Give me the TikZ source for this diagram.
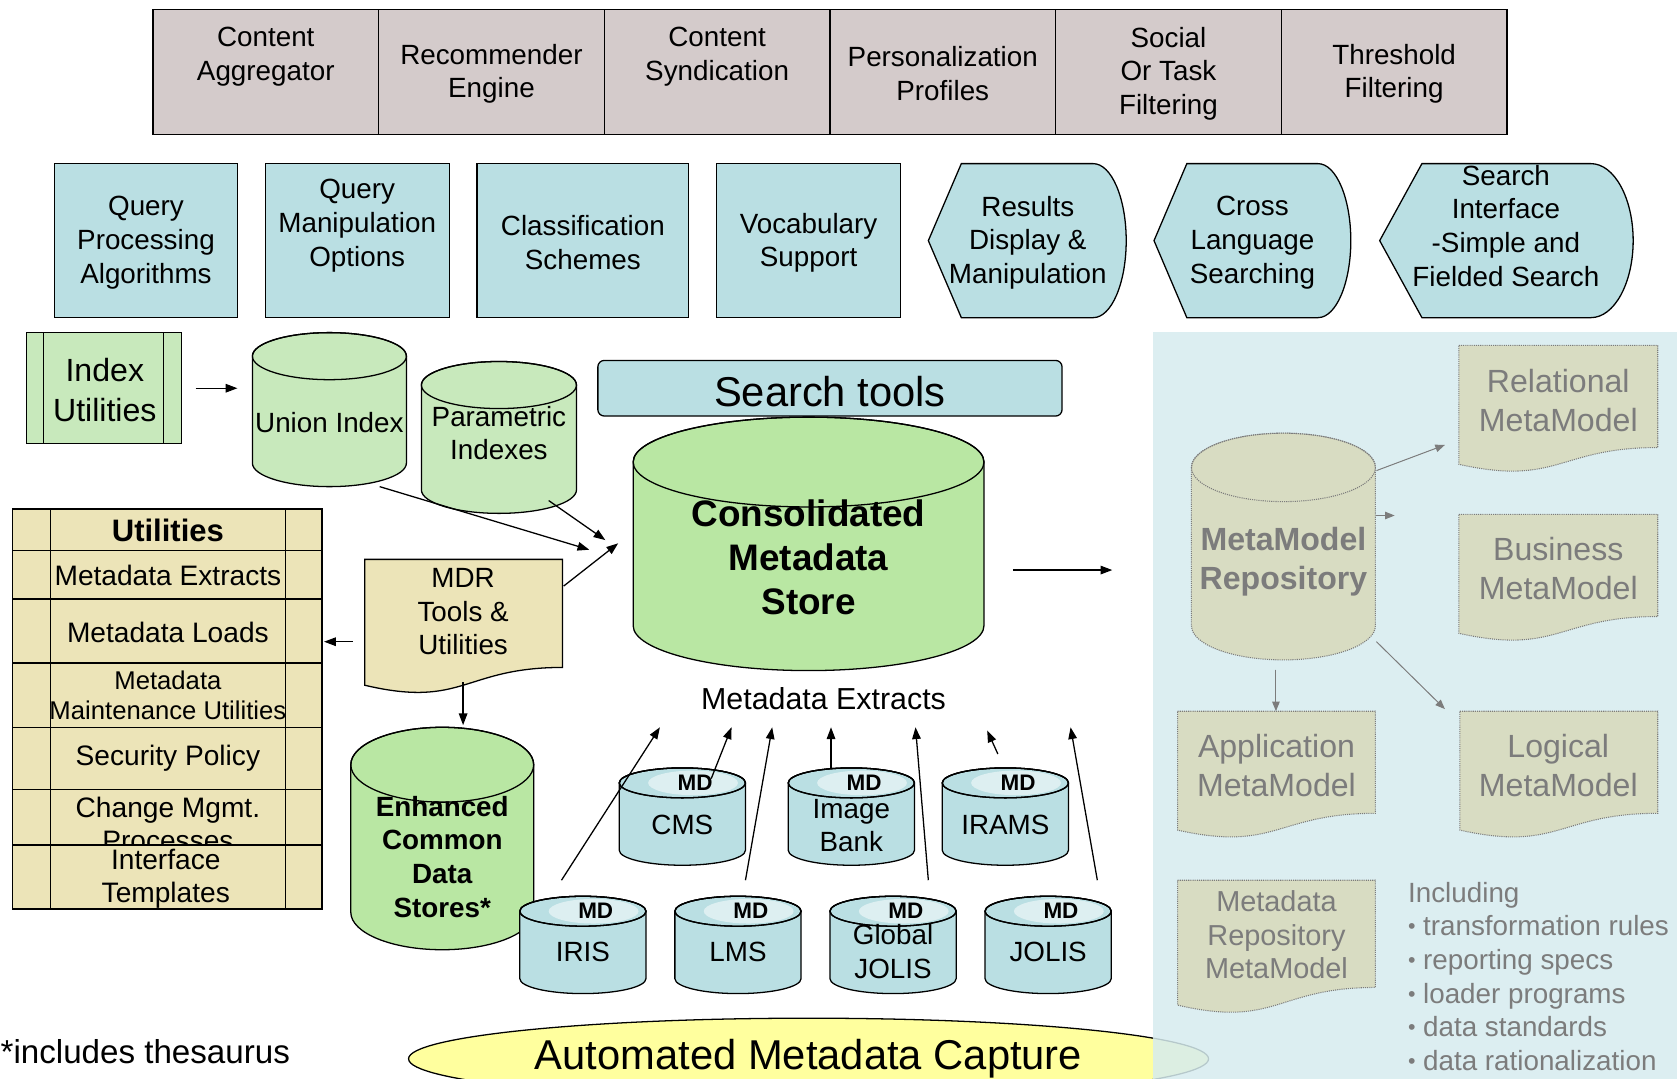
\documentclass[tikz,border=0pt]{standalone}
\usepackage{fontspec}
\setmainfont{Liberation Sans}
\usetikzlibrary{arrows.meta,shapes.geometric}
\definecolor{topgrey}{HTML}{D4CBCB}
\definecolor{boxblue}{HTML}{BADFE3}
\definecolor{lgreen}{HTML}{C8E9BC}
\definecolor{dgreen}{HTML}{B9E7A3}
\definecolor{khaki}{HTML}{ECE4B8}
\definecolor{yel}{HTML}{FFFF9E}
\definecolor{panelc}{HTML}{D6ECEF}
\definecolor{pfill}{HTML}{D8DCC2}
\definecolor{ptext}{HTML}{7C7C7C}
\definecolor{mdhi}{HTML}{DDEFF1}
\newcommand\fsz[2]{\fontsize{#1}{#2}\selectfont}
% cylinder: cx, top centre y, bottom centre y, rx, ry, fill, draw style
\newcommand\cylshape[7]{%
  \filldraw[fill=#6,#7] ({#1-#4},#2) -- ({#1-#4},#3)
    arc[start angle=180,end angle=0,x radius=#4,y radius=#5] -- ({#1+#4},#2)
    arc[start angle=0,end angle=-180,x radius=#4,y radius=#5] -- cycle;
  \draw[#7] (#1,#2) ellipse[x radius=#4,y radius=#5];}
% document: x, top y, w, h, fill, draw style
\newcommand\docshape[6]{%
  \filldraw[fill=#5,#6] (#1,#2) -- ({#1+#3},#2) -- ({#1+#3},{#2+0.802*#4})
    .. controls ({#1+0.5*#3},{#2+0.802*#4}) and ({#1+0.5*#3},{#2+1.1075*#4}) .. (#1,{#2+0.934*#4}) -- cycle;}
% display shape: x, top y, w, h
\newcommand\dispshape[4]{%
  \filldraw[fill=boxblue] (#1,{#2+#4/2}) -- ({#1+#3/6},#2) -- ({#1+5*#3/6},#2)
    arc[start angle=-90,end angle=90,x radius={#3/6},y radius={#4/2}] -- ({#1+#3/6},{#2+#4}) -- cycle;}
% MD cylinder: name, cx, top centre y, text, text y
\newcommand\mdcyl[5]{%
  \cylshape{#2}{#3}{#3+63}{59}{14}{boxblue}{draw=black}
  \fill[mdhi] ({#2+10},#3) ellipse[x radius=42,y radius=11.5];
  \draw (#2,#3) ellipse[x radius=59,y radius=14];
  \node[inner sep=0,font=\fsz{21}{24}\bfseries] (#1-md) at ({#2+12},#3) {MD};
  \node[txt] (#1) at (#2,#5) {#4};}
\newcommand\pbul{{\fsz{20}{20}\raisebox{2pt}{\textbullet}}\hspace{7pt}}
\begin{document}
\begin{tikzpicture}[x=1pt,y=-1pt,line width=1.2pt,
  txt/.style={align=center,inner sep=0pt,font=\fsz{26}{31.5}},
  cell/.style={draw,fill=topgrey,minimum width=211,minimum height=117,inner sep=0},
  bbox/.style={draw,fill=boxblue,minimum height=144,inner sep=0},
  arr/.style={-{Triangle[length=11pt,width=8pt]},line width=1.2pt},
  pdraw/.style={draw=ptext,densely dotted,line width=1pt},
  parr/.style={-{Triangle[length=9pt,width=7pt]},line width=0.9pt,draw=ptext,fill=ptext},
  ptxt/.style={align=center,inner sep=0pt,text=ptext,font=\fsz{30}{36.5}},
  utxt/.style={align=center,inner sep=0pt,font=\fsz{26.3}{31}}]
\useasboundingbox (0,0) rectangle (1568,1008);
\clip (0,0) rectangle (1568,1008);
\fill[white] (0,0) rectangle (1568,1008);

% ---- top row
\node[cell] (tc1) at (248.5,67.5) {};
\node[cell] (tc2) at (459.5,67.5) {};
\node[cell] (tc3) at (670.5,67.5) {};
\node[cell] (tc4) at (881.5,67.5) {};
\node[cell] (tc5) at (1092.5,67.5) {};
\node[cell] (tc6) at (1303.5,67.5) {};
\node[txt] (tt1) at (248.5,53) {Content\\Aggregator};
\node[txt] (tt2) at (459.5,69) {Recommender\\Engine};
\node[txt] (tt3) at (670.5,53) {Content\\Syndication};
\node[txt] (tt4) at (881.5,69) {Personalization\\Profiles};
\node[txt] (tt5) at (1092.5,69) {Social\\Or Task\\Filtering};
\node[txt] (tt6) at (1303.5,69) {Threshold\\Filtering};

% ---- second row
\node[bbox,minimum width=171] (q1) at (136.5,225) {};
\node[bbox,minimum width=172] (q2) at (334,225) {};
\node[bbox,minimum width=198] (q3) at (545,225) {};
\node[bbox,minimum width=172] (q4) at (756,225) {};
\node[txt] (q1t) at (136.5,227) {Query\\Processing\\Algorithms};
\node[txt] (q2t) at (334,211) {Query\\Manipulation\\Options};
\node[txt] (q3t) at (545,227) {Classification\\Schemes};
\node[txt] (q4t) at (756,227) {Vocabulary\\Support};
\dispshape{868}{153}{185}{144}
\dispshape{1079}{153}{184}{144}
\dispshape{1290}{153}{237}{144}
\node[txt] (d1t) at (961,227) {Results\\Display \&\\Manipulation};
\node[txt] (d2t) at (1171,227) {Cross\\Language\\Searching};
\node[txt] (d3t) at (1408,211) {Search\\Interface\\-Simple and\\Fielded Search};

% ---- index utilities
\node[draw,fill=lgreen,minimum width=145,minimum height=104,inner sep=0] (iu) at (97.5,363) {};
\draw (41,311) -- (41,415) (153,311) -- (153,415);
\node[txt,font=\fsz{30}{37}] (iut) at (98,364.5) {Index\\Utilities};

\cylshape{308}{333}{433}{72}{22}{lgreen}{draw=black}
\node[txt] (union) at (308,395) {Union Index};
\cylshape{466.5}{360}{458}{72.5}{22}{lgreen}{draw=black}
\node[txt] (param) at (466.5,405) {Parametric\\Indexes};

\node[draw,fill=boxblue,rounded corners=6,minimum width=434,minimum height=52,inner sep=0] (st) at (776,363) {};
\node[txt,font=\fsz{39}{46}] (stt) at (776,366) {Search tools};

\cylshape{756}{432}{585}{164}{42}{dgreen}{draw=black}
\node[txt,font=\fsz{34.5}{41.5}\bfseries] (cms) at (756,521) {Consolidated\\Metadata\\Store};

% ---- utilities table
\node[draw,fill=khaki,minimum width=289,minimum height=39,inner sep=0] (u0) at (156.5,495.5) {};
\node[txt,font=\fsz{29}{34}\bfseries] (u0t) at (157,496) {Utilities};
\node[draw,fill=khaki,minimum width=289,minimum height=45,inner sep=0] (u1) at (156.5,537.5) {};
\node[utxt] (u1t) at (157,538) {Metadata Extracts};
\node[draw,fill=khaki,minimum width=289,minimum height=60,inner sep=0] (u2) at (156.5,590) {};
\node[utxt] (u2t) at (157,591) {Metadata Loads};
\node[draw,fill=khaki,minimum width=289,minimum height=60,inner sep=0] (u3) at (156.5,650) {};
\node[txt,font=\fsz{24}{28}] (u3t) at (157,650) {Metadata\\Maintenance Utilities};
\node[draw,fill=khaki,minimum width=289,minimum height=58,inner sep=0] (u4) at (156.5,709) {};
\node[utxt] (u4t) at (157,709) {Security Policy};
\node[draw,fill=khaki,minimum width=289,minimum height=52,inner sep=0] (u5) at (156.5,764) {};
\node[utxt] (u5t) at (157,770) {Change Mgmt.\\Processes};
\node[draw,fill=khaki,minimum width=289,minimum height=60,inner sep=0] (u6) at (156.5,820) {};
\node[utxt] (u6t) at (155,821.5) {Interface\\Templates};
\draw (47,476) -- (47,850) (267,476) -- (267,850);

% ---- MDR tools
\docshape{341}{523}{185}{126}{khaki}{draw=black}
\node[txt] (mdr) at (433,572) {MDR\\Tools \&\\Utilities};

\cylshape{413.5}{715}{853}{85.5}{35}{dgreen}{draw=black}
\node[txt,font=\fsz{26}{31.5}\bfseries] (ecds) at (413.5,801) {Enhanced\\Common\\Data\\Stores*};

\node[txt,font=\fsz{28.4}{33}] (mex) at (770,653) {Metadata Extracts};

% ---- MD cylinders
\mdcyl{cmsdb}{638}{732}{CMS}{771}
\mdcyl{imgb}{796}{732}{Image\\Bank}{772}
\mdcyl{irams}{940}{732}{IRAMS}{771}
\mdcyl{iris}{545}{852}{IRIS}{890}
\mdcyl{lms}{690}{852}{LMS}{890}
\mdcyl{gjolis}{835}{852}{Global\\JOLIS}{890}
\mdcyl{jolis}{980}{852}{JOLIS}{890}

% ---- arrows (left / centre)
\coordinate (iuA) at (183,363); \coordinate (iuB) at (222,363);
\draw[arr] (iuA) -- (iuB);
\coordinate (unA) at (355,455); \coordinate (unB) at (551,514);
\draw[arr] (unA) -- (unB);
\coordinate (paA) at (513,468); \coordinate (paB) at (566,505);
\draw[arr] (paA) -- (paB);
\coordinate (mdA) at (527,548); \coordinate (mdB) at (578,508);
\draw[arr] (mdA) -- (mdB);
\coordinate (csA) at (947,533); \coordinate (csB) at (1040,533);
\draw[arr] (csA) -- (csB);
\coordinate (utA) at (330,600); \coordinate (utB) at (303,600);
\draw[arr] (utA) -- (utB);
\coordinate (edA) at (433,638); \coordinate (edB) at (433,678);
\draw[arr] (edA) -- (edB);

\coordinate (x1) at (617,680); \coordinate (x2) at (684,680); \coordinate (x3) at (722,680);
\coordinate (x4) at (777,680); \coordinate (x5) at (856,680); \coordinate (x6) at (923,683);
\coordinate (x7) at (1001,680);
\coordinate (s1) at (525,823); \coordinate (s2) at (665,728); \coordinate (s3) at (697,823);
\coordinate (s4) at (777,718); \coordinate (s5) at (868,823); \coordinate (s6) at (933,705);
\coordinate (s7) at (1026,823);
\foreach \i in {1,...,7} {\draw[arr] (s\i) -- (x\i);}

% ---- automated capture
\node[draw,fill=yel,ellipse,minimum width=748,minimum height=76,inner sep=0] (amc) at (756,990) {};
\node[txt,font=\fsz{39}{46}] (amct) at (756,990) {Automated Metadata Capture};
\node[anchor=west,inner sep=0,font=\fsz{31}{36}] (fn) at (0,983) {*includes thesaurus};

% ---- right panel
\fill[panelc,fill opacity=0.85] (1078,310) rectangle (1570,1010);
\cylshape{1200}{437}{585}{86}{32}{pfill}{pdraw}
\node[ptxt,font=\fsz{30}{36}\bfseries] (mmr) at (1200,525) {MetaModel\\Repository};
\docshape{1364}{323}{186}{119}{pfill}{pdraw}
\node[ptxt] (rel) at (1457,374.5) {Relational\\MetaModel};
\docshape{1364}{481}{186}{119}{pfill}{pdraw}
\node[ptxt] (bus) at (1457,532) {Business\\MetaModel};
\docshape{1101}{665}{185}{119}{pfill}{pdraw}
\node[ptxt] (app) at (1193.5,716) {Application\\MetaModel};
\docshape{1365}{665}{185}{119}{pfill}{pdraw}
\node[ptxt] (log) at (1457,716) {Logical\\MetaModel};
\docshape{1101}{823}{185}{125}{pfill}{pdraw}
\node[ptxt,font=\fsz{27}{31}] (mrm) at (1193.5,874) {Metadata\\Repository\\MetaModel};
\coordinate (p1a) at (1287,440); \coordinate (p1b) at (1351,416);
\coordinate (p2a) at (1287,482); \coordinate (p2b) at (1304,482);
\coordinate (p3a) at (1287,600); \coordinate (p3b) at (1351,663);
\coordinate (p4a) at (1193,626); \coordinate (p4b) at (1193,665);
\foreach \i in {1,...,4} {\draw[parr] (p\i a) -- (p\i b);}
\node[anchor=north west,align=left,inner sep=0,text=ptext,font=\fsz{26}{31.5}] (incl) at (1316,824)
  {Including\\
   \pbul transformation rules\\
   \pbul reporting specs\\
   \pbul loader programs\\
   \pbul data standards\\
   \pbul data rationalization};
\end{tikzpicture}
\end{document}
